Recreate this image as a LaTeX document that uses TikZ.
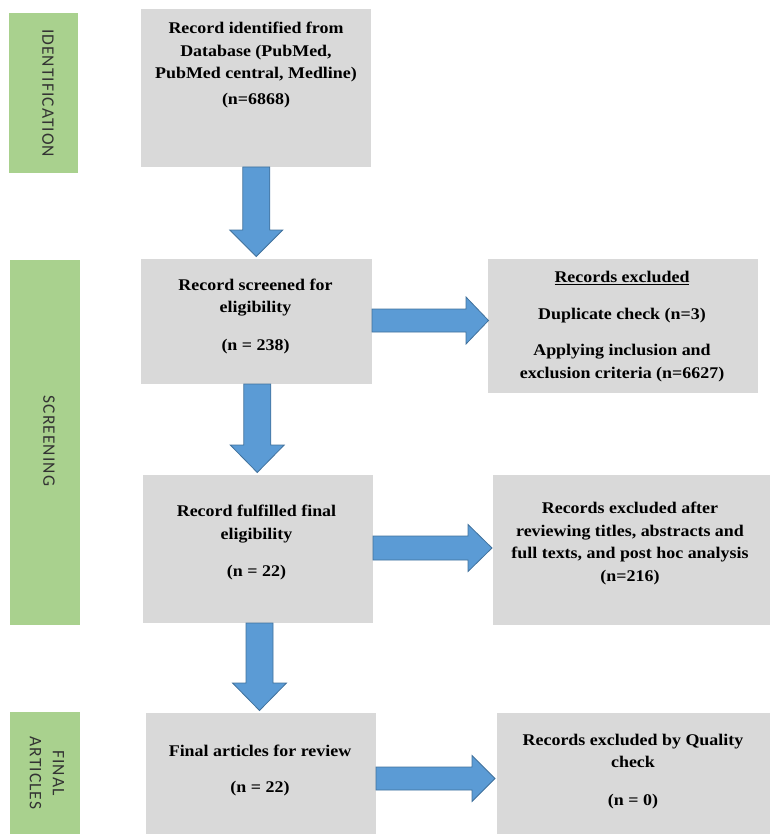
\documentclass[tikz,border=0pt]{standalone}
\usepackage{fontspec}
\setmainfont{Liberation Serif}[FakeStretch=1.1]
\newfontfamily\stagefont{Carlito}[LetterSpace=6]
\usetikzlibrary{calc}
\definecolor{boxgray}{HTML}{D9D9D9}
\definecolor{stagegreen}{HTML}{A9D18E}
\definecolor{arrowblue}{HTML}{5B9BD5}
\definecolor{arrowedge}{HTML}{41719C}
\definecolor{labelgray}{HTML}{333333}
\begin{document}
\begin{tikzpicture}[x=1pt,y=-1pt,
  stagebox/.style={fill=stagegreen, draw=none, inner sep=0pt, outer sep=0pt},
  graybox/.style={fill=boxgray, draw=none, inner sep=0pt, outer sep=0pt},
  boxtext/.style={align=center, font=\fontsize{16.3}{22.5}\selectfont\bfseries, inner sep=0pt},
  stagetext/.style={rotate=-90, align=center, font=\stagefont\fontsize{17.5}{23}\selectfont, text=labelgray, inner sep=0pt},
  blockarrow/.style={fill=arrowblue, draw=arrowedge, line width=0.8pt, line join=miter}]
\useasboundingbox (0,0) rectangle (770,834);

% stage labels
\node[stagebox, minimum width=69pt, minimum height=160pt] (g1) at (43.5,93) {};
\node[stagebox, minimum width=70pt, minimum height=365pt] (g2) at (45,442.5) {};
\node[stagebox, minimum width=70pt, minimum height=122pt] (g3) at (45,773) {};
\node[stagetext] (s1) at (48,93) {IDENTIFICATION};
\node[stagetext] (s2) at (49,441) {SCREENING};
\node[stagetext] (s3) at (47,773) {FINAL\\ARTICLES};

% gray boxes
\node[graybox, minimum width=230pt, minimum height=158pt] (b1) at (256,88) {};
\node[graybox, minimum width=231pt, minimum height=125pt] (b2) at (256.5,321.5) {};
\node[graybox, minimum width=230pt, minimum height=148pt] (b3) at (258,549) {};
\node[graybox, minimum width=230pt, minimum height=121pt] (b4) at (261,773.5) {};
\node[graybox, minimum width=270pt, minimum height=134pt] (r1) at (623,326) {};
\node[graybox, minimum width=277pt, minimum height=150pt] (r2) at (631.5,550) {};
\node[graybox, minimum width=273pt, minimum height=121pt] (r3) at (633.5,773.5) {};

% texts
\node[boxtext] (t1) at (256,65) {Record identified from\\Database (PubMed,\\PubMed central, Medline)\\[3.5pt](n=6868)};
\node[boxtext] (t2) at (255.5,316.5) {Record screened for\\eligibility\\[15.5pt](n = 238)};
\node[boxtext] (t3) at (256.5,542.5) {Record fulfilled final\\eligibility\\[14.5pt](n = 22)};
\node[boxtext] (t4) at (260,770) {Final articles for review\\[13.5pt](n = 22)};
\node[boxtext] (u1) at (622,326.5) {\underline{Records excluded}\\[15pt]Duplicate check (n=3)\\[13.5pt]Applying inclusion and\\exclusion criteria (n=6627)};
\node[boxtext] (u2) at (630,543.5) {Records excluded after\\reviewing titles, abstracts and\\full texts, and post hoc analysis\\(n=216)};
\node[boxtext] (u3) at (633,771.5) {Records excluded by Quality\\check\\[15.5pt](n = 0)};

% down arrows
\draw[blockarrow] let \p1=(b1.south), \p2=(b2.north), \n1={(\x1+\x2)/2} in
  (\n1-13.5pt,\y1) -- (\n1-13.5pt,\y2+29pt) -- (\n1-26.5pt,\y2+29pt) -- (\n1,\y2+2.5pt)
  -- (\n1+26.5pt,\y2+29pt) -- (\n1+13.5pt,\y2+29pt) -- (\n1+13.5pt,\y1) -- cycle;
\draw[blockarrow] let \p1=(b2.south), \p2=(b3.north), \n1={(\x1+\x2)/2} in
  (\n1-13.5pt,\y1) -- (\n1-13.5pt,\y2+30pt) -- (\n1-27pt,\y2+30pt) -- (\n1,\y2+2.5pt)
  -- (\n1+27pt,\y2+30pt) -- (\n1+13.5pt,\y2+30pt) -- (\n1+13.5pt,\y1) -- cycle;
\draw[blockarrow] let \p1=(b3.south), \p2=(b4.north), \n1={(\x1+\x2)/2} in
  (\n1-13.5pt,\y1) -- (\n1-13.5pt,\y2+30pt) -- (\n1-27pt,\y2+30pt) -- (\n1,\y2+2.5pt)
  -- (\n1+27pt,\y2+30pt) -- (\n1+13.5pt,\y2+30pt) -- (\n1+13.5pt,\y1) -- cycle;

% right arrows
\draw[blockarrow] let \p1=([yshift=1pt]b2.east), \p2=(r1.west) in
  (\x1,\y1+11.5pt) -- (\x2-22pt,\y1+11.5pt) -- (\x2-22pt,\y1+23.5pt) -- (\x2+0.5pt,\y1)
  -- (\x2-22pt,\y1-23.5pt) -- (\x2-22pt,\y1-11.5pt) -- (\x1,\y1-11.5pt) -- cycle;
\draw[blockarrow] let \p1=([yshift=1pt]b3.east), \p2=(r2.west) in
  (\x1,\y1+12pt) -- (\x2-25pt,\y1+12pt) -- (\x2-25pt,\y1+23.5pt) -- (\x2-1pt,\y1)
  -- (\x2-25pt,\y1-23.5pt) -- (\x2-25pt,\y1-12pt) -- (\x1,\y1-12pt) -- cycle;
\draw[blockarrow] let \p1=([yshift=-5pt]b4.east), \p2=(r3.west) in
  (\x1,\y1+11.5pt) -- (\x2-25pt,\y1+11.5pt) -- (\x2-25pt,\y1+23pt) -- (\x2-2pt,\y1)
  -- (\x2-25pt,\y1-23pt) -- (\x2-25pt,\y1-11.5pt) -- (\x1,\y1-11.5pt) -- cycle;
\end{tikzpicture}
\end{document}
